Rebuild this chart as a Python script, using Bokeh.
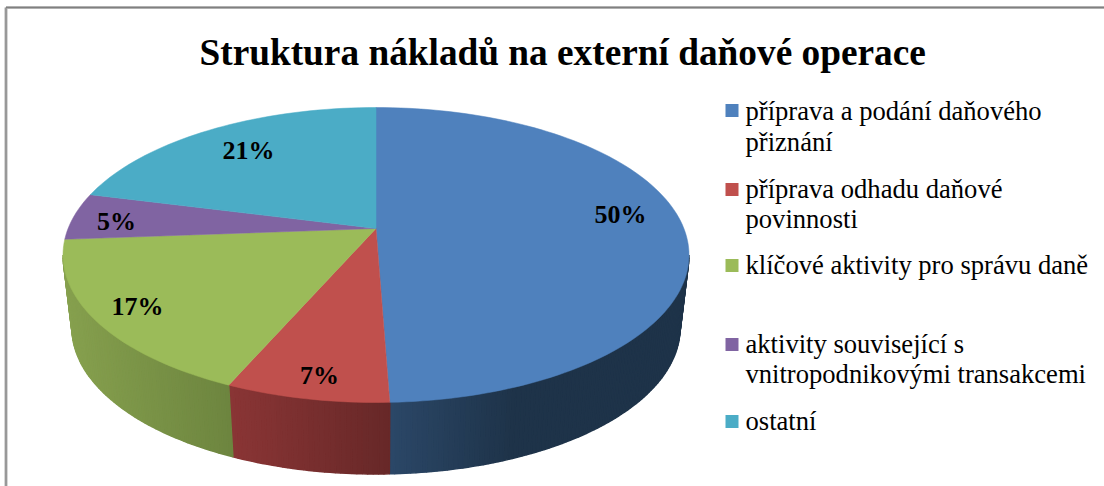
import math
from bokeh.plotting import figure
from bokeh.embed import file_html
from bokeh.resources import INLINE
from bokeh.core.properties import value
from bokeh.models import ColumnDataSource

TITLE = "Struktura nákladů na externí daňové operace"
categories = ["příprava a podání daňového\npřiznání", "příprava odhadu daňové\npovinnosti",
              "klíčové aktivity pro správu daně", "aktivity související s\nvnitropodnikovými transakcemi", "ostatní"]
labelled_percent = [50, 7, 17, 5, 21]
# share of the drawn rim that each slice occupies
rim_share = [49.3, 8.5, 18.9, 5.0, 18.3]
top_colors = ["#4f81bd", "#c0504d", "#9bbb59", "#8064a2", "#4bacc6"]
wall_left = ["#2b4767", "#8a3535", "#86a04e", "#5d4878", "#367d90"]
wall_right = ["#1e3349", "#672828", "#6d853f", "#4a3a60", "#2c6677"]
label_x = [620, 319, 137, 116, 248]
label_y = [214, 375, 306, 221, 150]
legend_y = [110, 189, 265, 344, 421]
legend_line_y = [[110, 141], [188, 218], [264], [343, 373], [420]]

W, H = 1104, 486
PX, PY = 375.5, 228          # pivot of the slices
TOP = (375.5, 254.5, 313, 147.5)   # rim of the top face
LOW = (375.5, 327.5, 304, 146)     # rim of the bottom face


def rim(e, deg):
    t = math.radians(deg)
    return e[0] + e[2] * math.sin(t), e[1] - e[3] * math.cos(t)


def mix(a, b, f):
    ca = [int(a[i:i + 2], 16) for i in (1, 3, 5)]
    cb = [int(b[i:i + 2], 16) for i in (1, 3, 5)]
    return "#%02x%02x%02x" % tuple(round(x + (y - x) * f) for x, y in zip(ca, cb))


p = figure(width=W, height=H, x_range=(0, W), y_range=(H, 0), toolbar_location=None,
           output_backend="svg", min_border=0, outline_line_color=None,
           background_fill_color="white", border_fill_color="white")
p.axis.visible = False
p.grid.visible = False

# frame
p.line([5.5, 5.5], [H, 7], line_color="#b0b0b0", line_width=3)
p.line([5.5, W], [7, 7], line_color="#b0b0b0", line_width=3)
p.line([5.5, 5.5], [H, 7], line_color="#808080", line_width=1)
p.line([5.5, W], [7, 7], line_color="#808080", line_width=1)

edges = [0.0]
for s in rim_share:
    edges.append(edges[-1] + s)

# side wall: thin strips, front part of the rim only
wx, wy, wc = [], [], []
for i in range(len(categories)):
    a, b = edges[i] * 3.6, edges[i + 1] * 3.6
    lo, hi = max(a, 90.0), min(b, 270.0)
    if hi <= lo:
        continue
    n = max(1, int((hi - lo) / 1.0))
    xa, xb = rim(LOW, lo)[0], rim(LOW, hi)[0]
    for k in range(n):
        t0, t1 = lo + (hi - lo) * k / n, lo + (hi - lo) * (k + 1) / n
        pts = [rim(TOP, t0), rim(TOP, t1), rim(LOW, t1), rim(LOW, t0)]
        wx.append([q[0] for q in pts])
        wy.append([q[1] for q in pts])
        xm = rim(LOW, (t0 + t1) / 2)[0]
        if i == 0:
            f = min(1.0, (xm - 390) / 120)
            wc.append(mix(wall_left[i], wall_right[i], max(0, f)))
        else:
            f = (xm - min(xa, xb)) / max(1e-6, abs(xb - xa))
            wc.append(mix(wall_left[i], wall_right[i], f))
p.patches(wx, wy, fill_color=wc, line_color=wc, line_width=1.5)

# top face
for i in range(len(categories)):
    a, b = edges[i] * 3.6, edges[i + 1] * 3.6
    n = max(2, int((b - a) / 1.5))
    pts = [rim(TOP, a + (b - a) * k / n) for k in range(n + 1)]
    xs = [PX] + [q[0] for q in pts]
    ys = [PY] + [q[1] for q in pts]
    p.patch(xs, ys, fill_color=top_colors[i], line_color=top_colors[i], line_width=0.5)

# data labels
src = ColumnDataSource(dict(x=label_x, y=label_y, t=[f"{v}%" for v in labelled_percent]))
p.text("x", "y", text="t", source=src, text_font=value("Liberation Serif"), text_font_style="bold",
       text_font_size="26px", text_color="black", text_align="center", text_baseline="middle")

# title
p.text([199], [52], text=[TITLE], text_font=value("Liberation Serif"), text_font_style="bold",
       text_font_size="37.3px", text_color="black", text_align="left", text_baseline="middle")

# legend
p.rect([731.5] * 5, legend_y, width=13, height=13, fill_color=top_colors, line_color=None)
for cat, ys in zip(categories, legend_line_y):
    for line, y in zip(cat.split("\n"), ys):
        p.text([745], [y], text=[line], text_font=value("Liberation Serif"), text_font_size="26.6px",
               text_color="black", text_align="left", text_baseline="middle")

open("out.html", "w").write(file_html(p, INLINE))
